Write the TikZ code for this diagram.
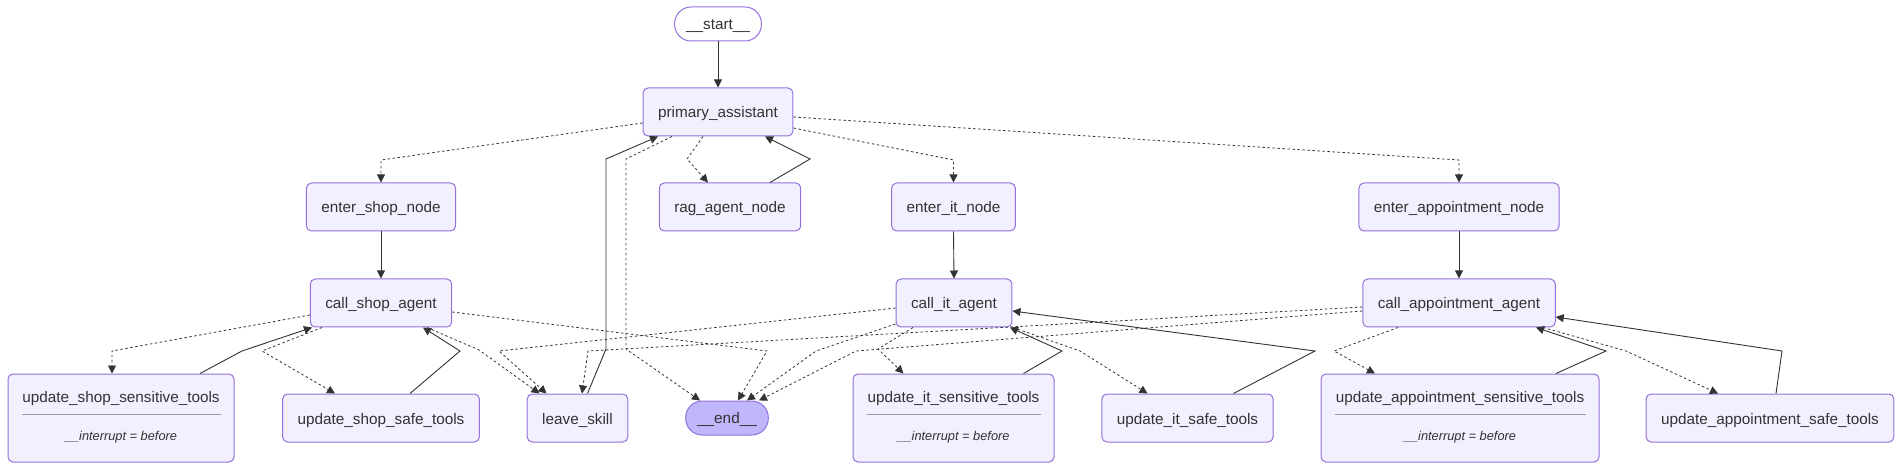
\documentclass[tikz,border=0pt]{standalone}
\usepackage{fontspec}
\setmainfont{Liberation Sans}
\usetikzlibrary{arrows.meta}
\definecolor{nodefill}{HTML}{F2F0FF}
\definecolor{nodeline}{HTML}{9370DB}
\definecolor{endfill}{HTML}{BFB6FC}
\definecolor{edgecol}{HTML}{333333}
\definecolor{txt}{HTML}{333333}
\begin{document}
\begin{tikzpicture}[x=1pt,y=-1pt,>={Triangle[length=8pt,width=8pt]},
  box/.style={draw=nodeline,fill=nodefill,rounded corners=5pt,line width=1pt,minimum height=48pt,inner xsep=15pt,text height=12pt,text depth=0pt,text=txt,font=\fontsize{15.3}{18}\selectfont},
  term/.style={box,rounded corners=16.5pt,minimum height=34pt,inner xsep=11.5pt,text height=11pt},
  sensbox/.style={box,minimum height=88pt},
  title/.style={text=txt,font=\fontsize{15.3}{18}\selectfont,inner sep=0pt,anchor=base},
  intr/.style={text=txt,font=\fontsize{12.8}{15}\selectfont\itshape,inner sep=0pt,anchor=base},
  seprule/.style={draw=gray!80,line width=0.8pt},
  flow/.style={->,draw=edgecol,line width=0.9pt},
  cond/.style={flow,line width=0.8pt,dash pattern=on 2.5pt off 2.5pt}]
\useasboundingbox (0,0) rectangle (1904,470);
% Knoten
\node[term,fill=white] (start) at (718,24) {\_\_start\_\_};
\node[box] (primary) at (718,112) {primary\_assistant};
\node[box] (entershop) at (381,207) {enter\_shop\_node};
\node[box] (rag) at (730,207) {rag\_agent\_node};
\node[box] (enterit) at (953.5,207) {enter\_it\_node};
\node[box] (enterappt) at (1459,207) {enter\_appointment\_node};
\node[box] (callshop) at (381,303) {call\_shop\_agent};
\node[box] (callit) at (954,303) {call\_it\_agent};
\node[box] (callappt) at (1459,303) {call\_appointment\_agent};
\node[box] (shopsafe) at (381,418) {update\_shop\_safe\_tools};
\node[box] (leave) at (577.5,418) {leave\_skill};
\node[term,fill=endfill] (finish) at (727,418) {\_\_end\_\_};
\node[box] (itsafe) at (1187.5,418) {update\_it\_safe\_tools};
\node[box] (apptsafe) at (1770,418) {update\_appointment\_safe\_tools};
% sensible Werkzeuge mit Unterbrechung
\node[sensbox,minimum width=226pt] (shopsens) at (121,418) {};
\node[title] (shopsenst) at ([yshift=-29pt]shopsens.north) {update\_shop\_sensitive\_tools};
\draw[seprule] ([xshift=14pt,yshift=-41pt]shopsens.north west) -- ([xshift=-14pt,yshift=-41pt]shopsens.north east);
\node[intr] (shopsensi) at ([yshift=-67pt]shopsens.north) {\_\_interrupt = before};
\node[sensbox,minimum width=201pt] (itsens) at (953.5,418) {};
\node[title] (itsenst) at ([yshift=-29pt]itsens.north) {update\_it\_sensitive\_tools};
\draw[seprule] ([xshift=14pt,yshift=-41pt]itsens.north west) -- ([xshift=-14pt,yshift=-41pt]itsens.north east);
\node[intr] (itsensi) at ([yshift=-67pt]itsens.north) {\_\_interrupt = before};
\node[sensbox,minimum width=278pt] (apptsens) at (1460,418) {};
\node[title] (apptsenst) at ([yshift=-29pt]apptsens.north) {update\_appointment\_sensitive\_tools};
\draw[seprule] ([xshift=14pt,yshift=-41pt]apptsens.north west) -- ([xshift=-14pt,yshift=-41pt]apptsens.north east);
\node[intr] (apptsensi) at ([yshift=-67pt]apptsens.north) {\_\_interrupt = before};
% Hauptassistent
\draw[flow] (start.south) -- (primary.north);
\draw[cond] ([yshift=-11pt]primary.west) -- (381,160) -- (entershop.north);
\draw[cond] ([xshift=-15pt]primary.south) -- (687,159) -- ([xshift=-22pt]rag.north);
\draw[flow] ([xshift=40pt]rag.north) -- (810,159) -- ([xshift=47pt]primary.south);
\draw[cond] ([yshift=-16pt]primary.east) -- (953.5,160) -- (enterit.north);
\draw[cond] ([yshift=-5pt]primary.east) -- (1459,160) -- (enterappt.north);
\draw[cond] ([xshift=-46pt]primary.south) -- (626,159) -- (626,349) -- ([xshift=-27pt]finish.north);
\draw[flow] ([xshift=10pt]leave.north) -- (606,349) -- (606,159) -- ([xshift=-60pt]primary.south);
% Shop
\draw[flow] (entershop.south) -- (callshop.north);
\draw[cond] ([yshift=-12pt]callshop.west) -- (112,351) -- ([xshift=-9pt]shopsens.north);
\draw[flow] ([xshift=79pt]shopsens.north) -- (242,351) -- ([xshift=-69pt]callshop.south);
\draw[cond] ([xshift=-59pt]callshop.south) -- (262,351) -- ([xshift=-46pt]shopsafe.north);
\draw[flow] ([xshift=29pt]shopsafe.north) -- (460,351) -- ([xshift=42pt]callshop.south);
\draw[cond] ([xshift=46pt]callshop.south) -- (479,350) -- ([xshift=-38pt]leave.north);
\draw[cond] ([yshift=-9pt]callshop.east) -- (767,351) -- ([xshift=11pt]finish.north);
% IT
\draw[flow] (enterit.south) -- (callit.north);
\draw[cond] ([xshift=-41pt]callit.south) -- (878,349) -- ([xshift=-50pt]itsens.north);
\draw[flow] ([xshift=70pt]itsens.north) -- (1062,351) -- ([xshift=56pt]callit.south);
\draw[cond] ([xshift=59pt]callit.south) -- (1080,351) -- ([xshift=-40pt]itsafe.north);
\draw[flow] ([xshift=46pt]itsafe.north) -- (1315,351) -- ([yshift=-8pt]callit.east);
\draw[cond] ([yshift=-5pt]callit.west) -- (499,351) -- ([xshift=-31pt]leave.north);
\draw[cond] ([yshift=-21pt]callit.west) -- (816,351) -- ([xshift=20pt]finish.north);
% Termine
\draw[flow] (enterappt.south) -- (callappt.north);
\draw[cond] ([xshift=-61pt]callappt.south) -- (1334,351) -- ([xshift=-85pt]apptsens.north);
\draw[flow] ([xshift=96pt]apptsens.north) -- (1606,351) -- ([xshift=77pt]callappt.south);
\draw[cond] ([xshift=84pt]callappt.south) -- (1626,351) -- ([xshift=-52pt]apptsafe.north);
\draw[flow] ([xshift=6pt]apptsafe.north) -- (1782,351) -- ([yshift=-14pt]callappt.east);
\draw[cond] ([yshift=-4pt]callappt.west) -- (588,351) -- ([xshift=4.5pt]leave.north);
\draw[cond] ([yshift=-8pt]callappt.west) -- (856,351) -- ([xshift=32pt]finish.north);
\end{tikzpicture}
\end{document}
